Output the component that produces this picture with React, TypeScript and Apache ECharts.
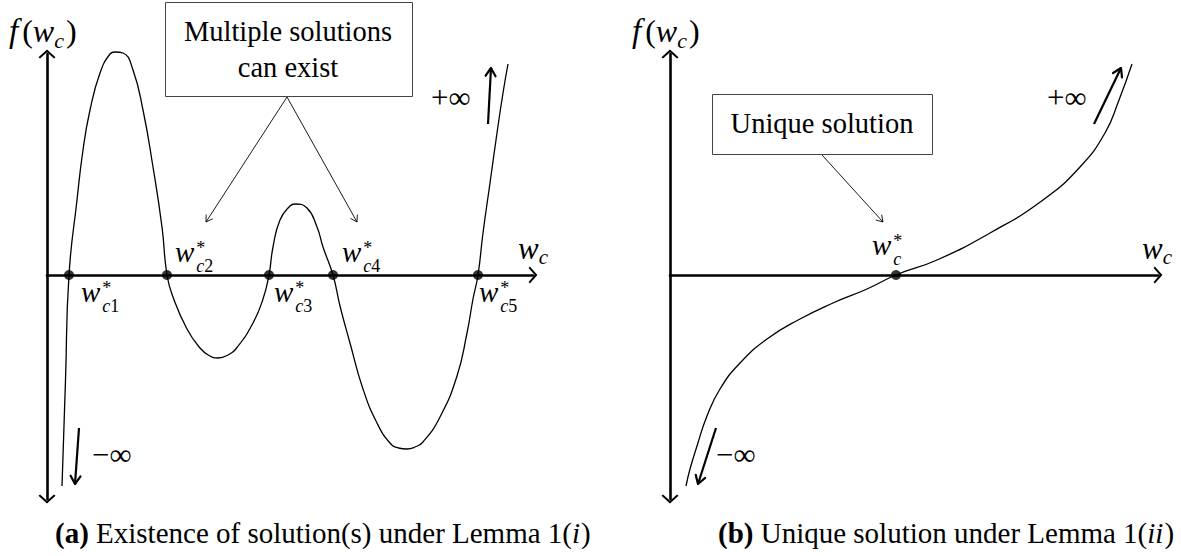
import React, { useEffect, useRef } from "react";
import * as echarts from "echarts";

const FONT = '"Liberation Serif", "Times New Roman", serif';

// Panel (a): f(w_c) crossing zero five times
const curveAX = [0.30, 0.37, 0.44, 0.60, 0.72, 0.86, 1.06, 1.26, 1.36, 1.52, 1.72, 1.92, 2.12, 2.30, 2.40, 2.52, 2.80, 3.06, 3.24, 3.42, 3.62, 3.80, 4.12, 4.32, 4.44, 4.52, 4.66, 4.86, 4.96, 5.20, 5.40, 5.52, 5.72, 5.86, 6.06, 6.32, 6.60, 6.86, 7.03, 7.20, 7.36, 7.52, 7.86, 8.20, 8.40, 8.52, 8.62, 8.72, 8.86, 9.00, 9.12, 9.22];
const curveAY = [-4.22, -2.1, 0, 1.5, 2.5, 3.3, 4.04, 4.42, 4.46, 4.44, 4.1, 3.3, 2.16, 0.96, 0, -0.44, -1.08, -1.46, -1.61, -1.66, -1.60, -1.45, -0.96, -0.48, 0, 0.56, 1.1, 1.38, 1.42, 1.34, 0.96, 0.56, 0, -0.62, -1.36, -2.28, -2.96, -3.36, -3.46, -3.48, -3.44, -3.34, -2.84, -2.02, -1.16, -0.48, 0, 0.84, 1.84, 2.84, 3.64, 4.22];
const rootsA = [0.44, 2.40, 4.44, 5.72, 8.62];
const rootSubsA = ["1", "2", "3", "4", "5"];

// Panel (b): monotone f(w_c) with a single crossing
const curveBX = [0.32, 0.40, 0.54, 0.74, 1.00, 1.40, 1.94, 2.60, 3.26, 3.94, 4.52, 5.34, 6.40, 7.46, 8.20, 8.70, 8.98, 9.24];
const curveBY = [-4.22, -3.88, -3.42, -2.82, -2.28, -1.76, -1.28, -0.88, -0.56, -0.28, 0, 0.30, 0.84, 1.50, 2.16, 2.84, 3.50, 4.22];
const rootsB = [4.52];

// Axis extents (no ticks are shown)
const Y_MIN = -4.48;
const Y_MAX = 4.42;
const X_MAX_A = 9.72;
const X_MAX_B = 9.76;

// label placement for the root markers: [dx px, side (+1 below, -1 above)]
const rootLabelPlaceA = [[12, 1], [8, -1], [5, 1], [9, -1], [1, 1]];

const CHEVRON = "path://M0,0 L9,8 L7.4,9.3 L0,2.9 L-7.4,9.3 L-9,8 Z";

type Piece = { t: string; it?: boolean; bf?: boolean; size: number; dy?: number; dx?: number };

let measureCtx: CanvasRenderingContext2D | null = null;
function fontOf(p: Piece) {
  return `${p.it ? "italic " : ""}${p.bf ? "bold " : ""}${p.size}px ${FONT}`;
}
function measure(p: Piece) {
  if (!measureCtx) measureCtx = document.createElement("canvas").getContext("2d");
  measureCtx!.font = fontOf(p);
  return measureCtx!.measureText(p.t).width;
}

function textEl(x: number, y: number, p: Piece) {
  return {
    type: "text",
    x,
    y,
    z: 10,
    silent: true,
    style: {
      text: p.t,
      fontSize: p.size,
      fontFamily: FONT,
      fontStyle: p.it ? "italic" : "normal",
      fontWeight: p.bf ? "bold" : "normal",
      fill: "#000",
      align: "left",
      textAlign: "left",
      verticalAlign: "middle",
      textVerticalAlign: "middle",
    },
  };
}

// lays pieces out left to right, each piece may be nudged by dx / dy
function textRow(x: number, y: number, pieces: Piece[], align: "left" | "center" = "left") {
  const widths = pieces.map(measure);
  const starts: number[] = [];
  let cx = 0;
  pieces.forEach((p, i) => {
    const s = cx + (p.dx || 0);
    starts.push(s);
    cx = s + widths[i];
  });
  const off = align === "center" ? -cx / 2 : 0;
  return pieces.map((p, i) => textEl(x + off + starts[i], y + (p.dy || 0), p));
}

function arrow(x1: number, y1: number, x2: number, y2: number, lw: number, head: number) {
  const dx = x2 - x1;
  const dy = y2 - y1;
  const L = Math.hypot(dx, dy);
  const ux = dx / L;
  const uy = dy / L;
  const nx = -uy;
  const ny = ux;
  const bx = x2 - ux * head;
  const by = y2 - uy * head;
  const w = head * 0.62;
  return [
    { type: "line", z: 10, silent: true, shape: { x1, y1, x2, y2 }, style: { stroke: "#000", lineWidth: lw } },
    {
      type: "polyline",
      z: 10,
      silent: true,
      shape: { points: [[bx + nx * w, by + ny * w], [x2, y2], [bx - nx * w, by - ny * w]] },
      style: { stroke: "#000", lineWidth: lw, fill: "none", lineJoin: "round", lineCap: "round" },
    },
  ];
}

const MATH = 29;
const SUB = 18;

// w^*_{c...} label; (x, cy) = left edge and vertical centre of the w
function rootLabel(x: number, cy: number, sub: string) {
  const w: Piece = { t: "w", it: true, size: MATH };
  const ww = measure(w);
  const tok = (extra: any) => ({ fontSize: SUB, fontFamily: FONT, lineHeight: 18, fill: "#000", ...extra });
  return [
    textEl(x, cy - 3, w),
    {
      type: "text",
      x: x + ww + 2,
      y: cy + 2,
      z: 10,
      silent: true,
      style: {
        text: `{s|*}\n{i|c}{n|${sub}}`,
        rich: {
          s: tok({}),
          i: tok({ fontStyle: "italic" }),
          n: tok({}),
        },
        fill: "#000",
        align: "left",
        textAlign: "left",
        verticalAlign: "middle",
        textVerticalAlign: "middle",
      },
    },
  ];
}

function fLabel(x: number, cy: number) {
  return textRow(x, cy, [
    { t: "f", it: true, size: 33 },
    { t: "(", size: 32, dx: 4 },
    { t: "w", it: true, size: 32 },
    { t: "c", it: true, size: 22, dy: 9 },
    { t: ")", size: 32, dx: 2 },
  ]);
}

function axisName(x: number, cy: number) {
  return textRow(x, cy - 3, [
    { t: "w", it: true, size: 31 },
    { t: "c", it: true, size: 21, dy: 9 },
  ]);
}

function xAxisCfg(gridIndex: number, max: number) {
  return {
    type: "value",
    gridIndex,
    min: 0,
    max,
    axisLine: {
      show: true,
      onZero: true,
      symbol: ["none", CHEVRON],
      symbolSize: [17, 9],
      lineStyle: { color: "#000", width: 2.6 },
    },
    axisTick: { show: false },
    axisLabel: { show: false },
    splitLine: { show: false },
  };
}

function yAxisCfg(gridIndex: number) {
  return {
    type: "value",
    gridIndex,
    min: Y_MIN,
    max: Y_MAX,
    axisLine: {
      show: true,
      onZero: true,
      symbol: [CHEVRON, CHEVRON],
      symbolSize: [17, 9],
      lineStyle: { color: "#000", width: 2.6 },
    },
    axisTick: { show: false },
    axisLabel: { show: false },
    splitLine: { show: false },
  };
}

const zip = (xs: number[], ys: number[]) => xs.map((x, i) => [x, ys[i]]);

export default function App() {
  const ref = useRef<HTMLDivElement>(null);

  useEffect(() => {
    if (!ref.current) return;
    const chart = echarts.init(ref.current, null, { renderer: "svg" });

    const curveStyle = { color: "#000", width: 1.3 };
    chart.setOption({
      animation: false,
      backgroundColor: "#fff",
      grid: [
        { left: 47, top: 54, width: 486, height: 445 },
        { left: 670, top: 54, width: 488, height: 445 },
      ],
      xAxis: [xAxisCfg(0, X_MAX_A), xAxisCfg(1, X_MAX_B)],
      yAxis: [yAxisCfg(0), yAxisCfg(1)],
      series: [
        {
          type: "line",
          xAxisIndex: 0,
          yAxisIndex: 0,
          data: zip(curveAX, curveAY),
          smooth: 0.5,
          showSymbol: false,
          clip: false,
          lineStyle: curveStyle,
          z: 3,
        },
        {
          type: "scatter",
          xAxisIndex: 0,
          yAxisIndex: 0,
          data: rootsA.map((x) => [x, 0]),
          symbolSize: 10,
          itemStyle: { color: "#000" },
          z: 5,
        },
        {
          type: "line",
          xAxisIndex: 1,
          yAxisIndex: 1,
          data: zip(curveBX, curveBY),
          smooth: 0.5,
          showSymbol: false,
          clip: false,
          lineStyle: curveStyle,
          z: 3,
        },
        {
          type: "scatter",
          xAxisIndex: 1,
          yAxisIndex: 1,
          data: rootsB.map((x) => [x, 0]),
          symbolSize: 10,
          itemStyle: { color: "#000" },
          z: 5,
        },
      ],
    });

    const g: any[] = [];

    // root labels, anchored at the plotted roots
    rootsA.forEach((x, i) => {
      const [px, py] = chart.convertToPixel({ seriesIndex: 1 }, [x, 0]) as number[];
      const [dx, side] = rootLabelPlaceA[i];
      g.push(...rootLabel(px + dx, py + side * 20, rootSubsA[i]));
    });
    rootsB.forEach((x) => {
      const [px, py] = chart.convertToPixel({ seriesIndex: 3 }, [x, 0]) as number[];
      g.push(...rootLabel(px - 24, py - 27, ""));
    });

    // axis names
    g.push(...fLabel(9, 31), ...fLabel(632, 31));
    g.push(...axisName(518, 251), ...axisName(1142, 251));

    // callout box, panel (a)
    g.push({
      type: "rect",
      z: 9,
      shape: { x: 165.5, y: 2.5, width: 247, height: 94 },
      style: { fill: "#fff", stroke: "#444", lineWidth: 1 },
    });
    g.push(...textRow(288, 31, [{ t: "Multiple solutions", size: 28.5 }], "center"));
    g.push(...textRow(288, 67, [{ t: "can exist", size: 28.5 }], "center"));
    g.push(...arrow(287, 97, 206, 222, 0.9, 6));
    g.push(...arrow(287, 97, 357, 222, 0.9, 6));

    // callout box, panel (b)
    g.push({
      type: "rect",
      z: 9,
      shape: { x: 712.5, y: 94.5, width: 220, height: 60 },
      style: { fill: "#fff", stroke: "#444", lineWidth: 1 },
    });
    g.push(...textRow(822, 123, [{ t: "Unique solution", size: 28.5 }], "center"));
    g.push(...arrow(822, 155, 883, 222, 0.9, 6));

    // limits
    g.push(...textRow(431, 97, [{ t: "+∞", size: 31 }]));
    g.push(...arrow(488, 124, 491, 68, 2.2, 8));
    g.push(...textRow(92, 454, [{ t: "−∞", size: 31 }]));
    g.push(...arrow(79, 428, 75, 484, 2.2, 8));
    g.push(...textRow(1047, 97, [{ t: "+∞", size: 31 }]));
    g.push(...arrow(1094, 124, 1121, 68, 2.2, 8));
    g.push(...textRow(716, 454, [{ t: "−∞", size: 31 }]));
    g.push(...arrow(716, 428, 698, 484, 2.2, 8));

    // captions
    g.push(
      ...textRow(55, 533, [
        { t: "(a)", bf: true, size: 29 },
        { t: " Existence of solution(s) under Lemma 1(", size: 29 },
        { t: "i", it: true, size: 29 },
        { t: ")", size: 29, dx: 1 },
      ])
    );
    g.push(
      ...textRow(718, 533, [
        { t: "(b)", bf: true, size: 29 },
        { t: " Unique solution under Lemma 1(", size: 29 },
        { t: "ii", it: true, size: 29 },
        { t: ")", size: 29, dx: 1 },
      ])
    );

    chart.setOption({ graphic: g });

    return () => chart.dispose();
  }, []);

  return (
    <div
      ref={ref}
      style={{ position: "fixed", left: 0, top: 0, width: 1181, height: 556, background: "#fff" }}
    />
  );
}
